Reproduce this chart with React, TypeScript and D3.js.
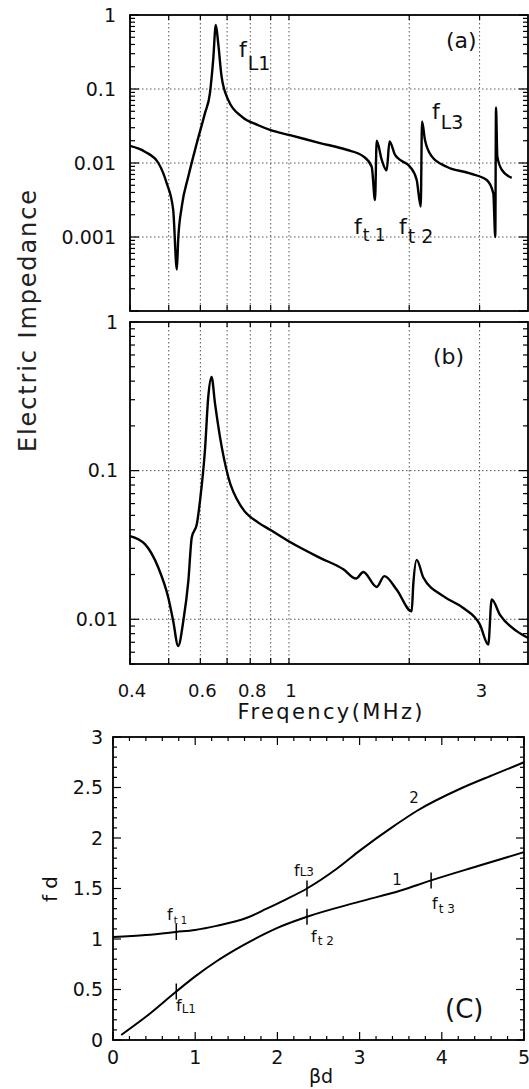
import React from 'react';
import * as d3 from 'd3';

// ---------- data ----------
const freqTickLabels = [0.4, 0.6, 0.8, 1, 3];
const freqGrid = [0.5, 0.6, 0.7, 0.8, 0.9, 1, 2, 3];
const freqMinor = [0.4, 0.5, 0.6, 0.7, 0.8, 0.9, 1, 2, 3];

const aFreq = [0.4, 0.436, 0.471, 0.494, 0.513, 0.524, 0.528, 0.539, 0.56, 0.588, 0.616, 0.634, 0.646, 0.656, 0.665, 0.678, 0.705, 0.762, 0.838, 0.9, 1.006, 1.196, 1.394, 1.535, 1.611, 1.642, 1.658, 1.707, 1.756, 1.785, 1.843, 1.897, 2.009, 2.088, 2.137, 2.153, 2.19, 2.277, 2.482, 2.838, 3.126, 3.247, 3.284, 3.298, 3.323, 3.408, 3.61];
const aImp = [0.017, 0.0142, 0.01, 0.00537, 0.00234, 0.000363, 0.000912, 0.00257, 0.00661, 0.0186, 0.0468, 0.0871, 0.245, 0.733, 0.417, 0.148, 0.0708, 0.0423, 0.0324, 0.0278, 0.0238, 0.0186, 0.0151, 0.0123, 0.00891, 0.00316, 0.02, 0.011, 0.00794, 0.0195, 0.0129, 0.011, 0.00891, 0.00589, 0.00257, 0.0363, 0.0204, 0.0123, 0.00891, 0.00724, 0.00589, 0.00389, 0.001, 0.0562, 0.0123, 0.00813, 0.00631];

const bFreq = [0.4, 0.436, 0.471, 0.499, 0.513, 0.528, 0.544, 0.56, 0.571, 0.588, 0.599, 0.616, 0.628, 0.64, 0.653, 0.672, 0.705, 0.762, 0.838, 0.9, 1.006, 1.196, 1.368, 1.472, 1.535, 1.658, 1.732, 1.861, 2.028, 2.047, 2.088, 2.169, 2.434, 2.731, 3.006, 3.154, 3.216, 3.374, 3.716, 3.97];
const bImp = [0.0363, 0.032, 0.0222, 0.0139, 0.00977, 0.00661, 0.00977, 0.0182, 0.0355, 0.0437, 0.0631, 0.136, 0.313, 0.427, 0.282, 0.168, 0.0902, 0.0565, 0.0447, 0.0398, 0.0331, 0.0259, 0.0217, 0.0188, 0.0208, 0.0165, 0.0195, 0.0158, 0.0113, 0.0171, 0.0251, 0.0191, 0.0143, 0.0119, 0.0092, 0.00676, 0.0136, 0.0107, 0.00832, 0.00748];

const aYTicks = [1, 0.1, 0.01, 0.001];
const aYGrid = [0.1, 0.01, 0.001];
const bYTicks = [1, 0.1, 0.01];
const bYGrid = [0.1, 0.01];

const c1Beta = [0.1, 0.4, 0.77, 1.0, 1.26, 1.5, 1.87, 2.0, 2.36, 3.0, 3.5, 3.87, 4.43, 5.0];
const c1Fd = [0.05, 0.23, 0.48, 0.63, 0.78, 0.9, 1.06, 1.11, 1.22, 1.37, 1.48, 1.58, 1.72, 1.86];
const c2Beta = [0.0, 0.4, 0.77, 1.0, 1.26, 1.63, 1.87, 2.1, 2.36, 2.73, 3.01, 3.42, 3.7, 4.23, 4.64, 5.0];
const c2Fd = [1.02, 1.04, 1.07, 1.09, 1.13, 1.21, 1.3, 1.39, 1.5, 1.7, 1.88, 2.12, 2.27, 2.49, 2.63, 2.75];
const cMarkBeta = [0.77, 0.77, 2.36, 2.36, 3.87];
const cMarkFd = [0.48, 1.07, 1.22, 1.5, 1.58];

const cXTicks = [0, 1, 2, 3, 4, 5];
const cYTicks = [0, 0.5, 1, 1.5, 2, 2.5, 3];

const FONT = "'DejaVu Sans', 'Liberation Sans', sans-serif";

export default function App() {
  const xF = d3.scaleLog().domain([0.4, 4]).range([130, 529.5]);
  const yA = d3.scaleLog().domain([1e-4, 1]).range([311, 15]);
  const yB = d3.scaleLog().domain([0.005, 1]).range([664, 322]);
  const xC = d3.scaleLinear().domain([0, 5]).range([113, 524]);
  const yC = d3.scaleLinear().domain([0, 3]).range([1040, 737]);

  const lineA = d3.line<number>().x((_, i) => xF(aFreq[i])).y((d) => yA(d)).curve(d3.curveMonotoneX);
  const lineB = d3.line<number>().x((_, i) => xF(bFreq[i])).y((d) => yB(d)).curve(d3.curveMonotoneX);
  const line1 = d3.line<number>().x((_, i) => xC(c1Beta[i])).y((d) => yC(d)).curve(d3.curveMonotoneX);
  const line2 = d3.line<number>().x((_, i) => xC(c2Beta[i])).y((d) => yC(d)).curve(d3.curveMonotoneX);

  const xLeft = 130, xRight = 528;

  const logMinor = (lo: number, hi: number) => {
    const out: { v: number; major: boolean }[] = [];
    for (let e = Math.floor(Math.log10(lo)); e <= Math.ceil(Math.log10(hi)); e++) {
      for (let k = 1; k <= 9; k++) {
        const v = k * Math.pow(10, e);
        if (v >= lo * 0.999 && v <= hi * 1.001) out.push({ v, major: k === 1 });
      }
    }
    return out;
  };

  const gridStyle = { stroke: '#555', strokeWidth: 1, strokeDasharray: '1.5 2.5', fill: 'none' } as const;

  const freqPanel = (
    y: d3.ScaleLogarithmic<number, number>,
    lo: number, hi: number, top: number, bottom: number,
    grid: number[], ticks: number[], path: string, labelRight: number, key: string,
  ) => (
    <g key={key}>
      {freqGrid.map((f) => (
        <line key={'vg' + f} x1={xF(f)} x2={xF(f)} y1={top} y2={bottom} style={gridStyle} />
      ))}
      {grid.map((v) => (
        <line key={'hg' + v} x1={xLeft} x2={xRight} y1={y(v)} y2={y(v)} style={gridStyle} />
      ))}
      {logMinor(lo, hi).map((t, i) => (
        <g key={'t' + i}>
          <line x1={xLeft} x2={xLeft + (t.major ? 9 : 5)} y1={y(t.v)} y2={y(t.v)} stroke="#000" strokeWidth={1.2} />
          <line x1={xRight} x2={xRight - (t.major ? 9 : 5)} y1={y(t.v)} y2={y(t.v)} stroke="#000" strokeWidth={1.2} />
        </g>
      ))}
      {freqMinor.map((f) => (
        <g key={'xt' + f}>
          <line x1={xF(f)} x2={xF(f)} y1={bottom} y2={bottom - 6} stroke="#000" strokeWidth={1.2} />
          <line x1={xF(f)} x2={xF(f)} y1={top} y2={top + 5} stroke="#000" strokeWidth={1.2} />
        </g>
      ))}
      <rect x={xLeft} y={top} width={xRight - xLeft} height={bottom - top} fill="none" stroke="#000" strokeWidth={1.8} />
      {ticks.map((v) => (
        <text key={'yl' + v} x={labelRight} y={y(v)} dy="0.36em" textAnchor="end" fontFamily={FONT} fontSize={19} fill="#111">
          {String(v)}
        </text>
      ))}
      <path d={path} fill="none" stroke="#000" strokeWidth={2.4} strokeLinejoin="round" />
    </g>
  );

  const cMinorX = d3.range(0, 5.001, 0.2);
  const cMinorY = d3.range(0, 3.001, 0.1);

  return (
    <svg width={529} height={1089} style={{ position: 'absolute', left: 0, top: 0, background: '#fff' }}>
      <rect x={0} y={0} width={529} height={1089} fill="#fff" />
      {freqPanel(yA, 1e-4, 1, 15, 311, aYGrid, aYTicks, lineA(aImp) || '', 116, 'a')}
      {freqPanel(yB, 0.005, 1, 322, 664, bYGrid, bYTicks, lineB(bImp) || '', 118, 'b')}

      {/* panel labels (a) (b) */}
      <text x={446} y={48} fontFamily={FONT} fontSize={22} fill="#111">(a)</text>
      <text x={433} y={364} fontFamily={FONT} fontSize={22} fill="#111">(b)</text>

      {/* resonance labels in (a) */}
      <text x={239} y={57} fontFamily={FONT} fontSize={22} fill="#111">f<tspan dx={1} dy={13} fontSize={19}>L1</tspan></text>
      <text x={354} y={234} fontFamily={FONT} fontSize={22} fill="#111">f<tspan dx={1} dy={7} fontSize={17}>t 1</tspan></text>
      <text x={399} y={234} fontFamily={FONT} fontSize={22} fill="#111">f<tspan dx={1} dy={9} fontSize={19}>t 2</tspan></text>
      <text x={432} y={119} fontFamily={FONT} fontSize={22} fill="#111">f<tspan dx={1} dy={10} fontSize={19}>L3</tspan></text>

      {/* x tick labels */}
      {freqTickLabels.map((f) => (
        <text key={'xl' + f} x={xF(f) + 2} y={697} textAnchor="middle" fontFamily={FONT} fontSize={18} fill="#111">
          {String(f)}
        </text>
      ))}
      <text x={330} y={719} textAnchor="middle" fontFamily={FONT} fontSize={21} textLength={185} lengthAdjust="spacing" fill="#111">Freqency(MHz)</text>
      <text transform="translate(36,321) rotate(-90)" textAnchor="middle" fontFamily={FONT} fontSize={24} textLength={262} lengthAdjust="spacing" fill="#222">Electric  Impedance</text>

      {/* panel (c) */}
      {cMinorY.map((v, i) => {
        const major = Math.abs(v * 2 - Math.round(v * 2)) < 1e-6;
        const len = major ? 8 : 4;
        return (
          <g key={'cy' + i}>
            <line x1={xC(0)} x2={xC(0) + len} y1={yC(v)} y2={yC(v)} stroke="#000" strokeWidth={1.2} />
            <line x1={xC(5)} x2={xC(5) - len} y1={yC(v)} y2={yC(v)} stroke="#000" strokeWidth={1.2} />
          </g>
        );
      })}
      {cMinorX.map((v, i) => {
        const major = Math.abs(v - Math.round(v)) < 1e-6;
        const len = major ? 8 : 4;
        return (
          <g key={'cx' + i}>
            <line x1={xC(v)} x2={xC(v)} y1={yC(0)} y2={yC(0) - len} stroke="#000" strokeWidth={1.2} />
            <line x1={xC(v)} x2={xC(v)} y1={yC(3)} y2={yC(3) + len} stroke="#000" strokeWidth={1.2} />
          </g>
        );
      })}
      <rect x={xC(0)} y={yC(3)} width={xC(5) - xC(0)} height={yC(0) - yC(3)} fill="none" stroke="#000" strokeWidth={1.8} />
      {cYTicks.map((v) => (
        <text key={'cyl' + v} x={103} y={yC(v)} dy="0.36em" textAnchor="end" fontFamily={FONT} fontSize={19} fill="#111">
          {String(v)}
        </text>
      ))}
      {cXTicks.map((v) => (
        <text key={'cxl' + v} x={xC(v)} y={1064} textAnchor="middle" fontFamily={FONT} fontSize={19} fill="#111">
          {String(v)}
        </text>
      ))}
      <text x={321} y={1083} textAnchor="middle" fontFamily={FONT} fontSize={19} fill="#111">βd</text>
      <text transform="translate(57,889) rotate(-90)" textAnchor="middle" fontFamily={FONT} fontSize={20} fill="#111">f d</text>

      <path d={line1(c1Fd) || ''} fill="none" stroke="#000" strokeWidth={2} />
      <path d={line2(c2Fd) || ''} fill="none" stroke="#000" strokeWidth={2} />
      {cMarkBeta.map((b, i) => (
        <line key={'mk' + i} x1={xC(b)} x2={xC(b)} y1={yC(cMarkFd[i]) - 8} y2={yC(cMarkFd[i]) + 8} stroke="#000" strokeWidth={1.5} />
      ))}

      <text x={414} y={803} textAnchor="middle" fontFamily={FONT} fontSize={15} fill="#111">2</text>
      <text x={397} y={885} textAnchor="middle" fontFamily={FONT} fontSize={15} fill="#111">1</text>
      <text x={167} y={920} fontFamily={FONT} fontSize={16} fill="#111">f<tspan dx={1} dy={4} fontSize={10}>t 1</tspan></text>
      <text x={176} y={1011} fontFamily={FONT} fontSize={16} fill="#111">f<tspan dx={0} dy={2} fontSize={12}>L1</tspan></text>
      <text x={294} y={876} fontFamily={FONT} fontSize={16} fill="#111">f<tspan dx={0} dy={0} fontSize={12}>L3</tspan></text>
      <text x={311} y={942} fontFamily={FONT} fontSize={16} fill="#111">f<tspan dx={1} dy={3} fontSize={12}>t 2</tspan></text>
      <text x={432} y={909} fontFamily={FONT} fontSize={16} fill="#111">f<tspan dx={1} dy={4} fontSize={12}>t 3</tspan></text>
      <text x={445} y={1018} fontFamily={FONT} fontSize={26} fill="#111">(C)</text>
    </svg>
  );
}
